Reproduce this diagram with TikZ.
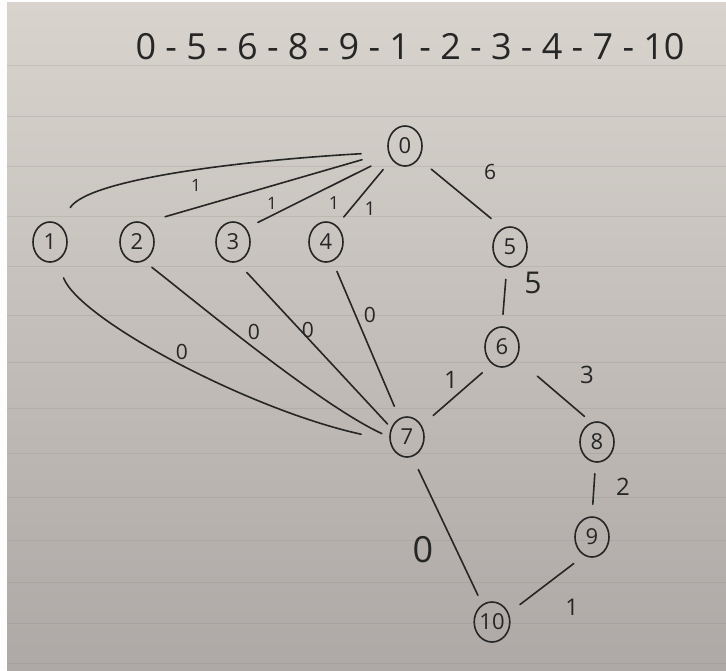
\documentclass[tikz,border=0pt]{standalone}
\usepackage{fontspec}
\setsansfont{Open Sans}
\usetikzlibrary{shapes.geometric}
\definecolor{ink}{RGB}{38,38,38}
\definecolor{paperTop}{RGB}{216,212,205}
\definecolor{paperBot}{RGB}{174,168,166}
\definecolor{ruleclr}{RGB}{140,135,132}
\newcommand\hgap{\hspace{9.3pt}}
\begin{document}
\begin{tikzpicture}[x=1pt,y=-1pt,
  vtx/.style={ellipse, draw=ink, line width=1.6pt, minimum width=34pt, minimum height=40pt, inner sep=0pt, font=\fontsize{22}{22}\selectfont\sffamily, text=ink},
  ln/.style={draw=ink, line width=1.6pt, line cap=round},
  wt/.style={font=\fontsize{21}{21}\selectfont\sffamily, text=ink, inner sep=0pt},
  rl/.style={draw=ruleclr, line width=1pt, opacity=0.22}]
\useasboundingbox (0,0) rectangle (726,670);
\fill[white!96!paperTop] (0,0) rectangle (726,670);
\shade[top color=paperTop, bottom color=paperBot] (7,2) rectangle (726,670);
% ruled lines
\foreach \yy in {65,116,166,216,266,315,362,408,453,497,540,582,623,663}
  \draw[rl] (7,\yy) -- (726,\yy);
% title sequence
\node[font=\fontsize{36}{36}\selectfont\sffamily, text=ink, inner sep=0pt] (seq) at (410,47)
  {0\hgap-\hgap5\hgap-\hgap6\hgap-\hgap8\hgap-\hgap9\hgap-\hgap1\hgap-\hgap2\hgap-\hgap3\hgap-\hgap4\hgap-\hgap7\hgap-\hgap10};
% vertices
\node[vtx] (n0) at (405,146) {0};
\node[vtx] (n1) at (50,242) {1};
\node[vtx] (n2) at (137,242) {2};
\node[vtx] (n3) at (233,242) {3};
\node[vtx] (n4) at (326,242) {4};
\node[vtx] (n5) at (510,247) {5};
\node[vtx] (n6) at (502,347) {6};
\node[vtx] (n7) at (407,437) {7};
\node[vtx] (n8) at (597,442) {8};
\node[vtx] (n9) at (592,537) {9};
\node[vtx] (n10) at (492,622) {10};
% edges
\draw[ln, shorten <=16pt, shorten >=15pt] (n0.-43) -- (n5.111);
\draw[ln, shorten <=12pt, shorten >=12pt] (n5.-99) -- (n6.90);
\draw[ln, shorten <=13pt, shorten >=15pt] (n6.-120) -- (n7.38);
\draw[ln, shorten <=27pt, shorten >=9pt] (n6.-38) -- (n8.106);
\draw[ln, shorten <=11pt, shorten >=12pt] (n8.-94) -- (n9.90);
\draw[ln, shorten <=13pt, shorten >=14pt] (n9.-113) -- (n10.28);
\draw[ln, shorten <=14pt, shorten >=10pt] (n7.-75) -- (n10.119);
\draw[ln, shorten <=11pt, shorten >=13pt] (n4.-71) -- (n7.112);
\draw[ln, shorten <=14pt, shorten >=5pt] (n3.-78) -- (n7.150);
\draw[ln, shorten <=11pt, shorten >=13pt] (n4.57) -- (n0.-135);
\draw[ln, shorten <=13pt, shorten >=21pt] (n3.46) -- (n0.-145);
\draw[ln, shorten <=22pt, shorten >=27pt] (n2.70) -- (n0.-160);
\draw[ln, shorten <=20pt, shorten >=27pt] (n1.63) .. controls (90,178) and (250,160) .. (n0.-160);
\draw[ln, shorten <=18pt, shorten >=29pt] (n1.-70) .. controls (80,320) and (250,410) .. (n7.-169);
\draw[ln, shorten <=10pt, shorten >=8pt] (n2.-70) .. controls (200,305) and (320,405) .. (n7.180);
% weights
\node[wt] (w05) at (490,172) {6};
\node[wt, font=\fontsize{30}{30}\selectfont\sffamily] (w56) at (533,283) {5};
\node[wt, font=\fontsize{24}{24}\selectfont\sffamily] (w67) at (451,380) {1};
\node[wt, font=\fontsize{24}{24}\selectfont\sffamily] (w68) at (587,375) {3};
\node[wt, font=\fontsize{24}{24}\selectfont\sffamily] (w89) at (623,487) {2};
\node[wt, font=\fontsize{23}{23}\selectfont\sffamily] (w910) at (572,607) {1};
\node[wt, font=\fontsize{36}{36}\selectfont\sffamily] (w710) at (423,550) {0};
\node[wt, font=\fontsize{17}{17}\selectfont\sffamily] (w01) at (196,185) {1};
\node[wt, font=\fontsize{17}{17}\selectfont\sffamily] (w02) at (272,203) {1};
\node[wt, font=\fontsize{18}{18}\selectfont\sffamily] (w03) at (334,203) {1};
\node[wt, font=\fontsize{19}{19}\selectfont\sffamily] (w04) at (370,209) {1};
\node[wt] (w17) at (182,352) {0};
\node[wt] (w27) at (254,332) {0};
\node[wt] (w37) at (308,330) {0};
\node[wt] (w47) at (370,315) {0};
\end{tikzpicture}
\end{document}
